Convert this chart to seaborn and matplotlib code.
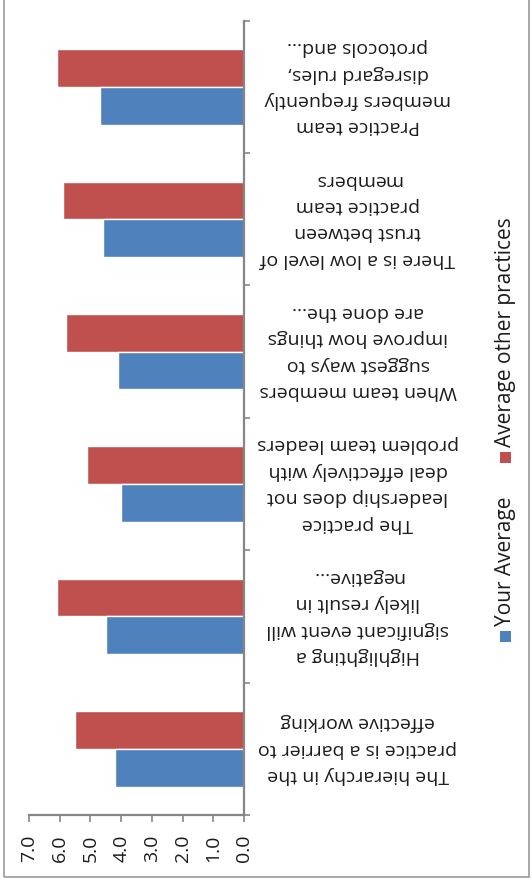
import matplotlib
matplotlib.use("Agg")
import matplotlib.pyplot as plt
from matplotlib.patches import Rectangle
import numpy as np
import pandas as pd
import seaborn as sns

# Survey statements (top to bottom) and the two series of average scores
statements = [
    "Practice team\nmembers frequently\ndisregard rules,\nprotocols and...",
    "There is a low level of\ntrust between\npractice team\nmembers",
    "When team members\nsuggest ways to\nimprove how things\nare done the...",
    "The practice\nleadership does not\ndeal effectively with\nproblem team leaders",
    "Highlighting a\nsignificant event will\nlikely result in\nnegative...",
    "The hierarchy in the\npractice is a barrier to\neffective working",
]
your_average = [4.7, 4.6, 4.1, 4.0, 4.5, 4.2]
other_average = [6.1, 5.9, 5.8, 5.1, 6.1, 5.5]
series_names = ["Average other practices", "Your Average"]
series_colors = ["#C0504D", "#4F81BD"]
value_ticks = [0, 1, 2, 3, 4, 5, 6, 7]

df = pd.DataFrame({
    "statement": statements * 2,
    "series": [series_names[1]] * len(statements) + [series_names[0]] * len(statements),
    "value": your_average + other_average,
})

sns.set_theme(style="white")
plt.rcParams["font.family"] = ["Open Sans", "DejaVu Sans"]

W, H = 532, 885
fig = plt.figure(figsize=(W / 100, H / 100), dpi=100)


def box(x0, y0, x1, y1):
    return [x0 / W, 1 - y1 / H, (x1 - x0) / W, (y1 - y0) / H]


ax = fig.add_axes(box(29, 20.7, 244, 815))
palette = dict(zip(series_names, series_colors))
sns.barplot(data=df, y="statement", x="value", hue="series",
            hue_order=series_names, palette=palette, orient="h",
            width=0.57, saturation=1, errorbar=None, legend=False, ax=ax)

axis_grey = "#868686"
text_color = "#1c1c1c"

ax.set_xlim(7, 0)
ax.set_ylim(len(statements) - 0.5, -0.5)
ax.set_xticks(value_ticks)
ax.set_xticklabels([f"{v:.1f}" for v in value_ticks], rotation=90,
                   color=text_color, fontsize=14)
ax.yaxis.tick_right()
ax.set_yticks(range(len(statements)))
ax.set_yticklabels(statements, rotation=180, ha="center", va="center",
                   multialignment="center", linespacing=1.6,
                   color=text_color, fontsize=14)
ax.set_yticks(np.arange(-0.5, len(statements), 1), minor=True)
ax.tick_params(axis="y", which="major", length=0, pad=82)
ax.tick_params(axis="y", which="minor", length=4, width=1.2, color=axis_grey,
               right=True, left=False, direction="out")
ax.tick_params(axis="x", which="major", length=5, width=1.2, color=axis_grey,
               direction="out", pad=9, bottom=True)
ax.set_xlabel("")
ax.set_ylabel("")
for side in ("left", "top"):
    ax.spines[side].set_visible(False)
for side in ("right", "bottom"):
    ax.spines[side].set_color(axis_grey)
    ax.spines[side].set_linewidth(1.6)

# Legend drawn vertically along the right edge
legend_items = [(series_names[0], series_colors[0], 452), (series_names[1], series_colors[1], 631)]
for label, color, top in legend_items:
    fig.patches.append(Rectangle((500 / W, 1 - (top + 11) / H), 11 / W, 11 / H,
                                 transform=fig.transFigure, facecolor=color,
                                 edgecolor="none"))
    fig.text(506 / W, 1 - (top - 5) / H, label, rotation=90, ha="center",
             va="bottom", fontsize=15, color=text_color)

# Chart frame
fig.patches.append(Rectangle((4 / W, 1 - 877 / H), 525 / W, 900 / H,
                             transform=fig.transFigure, fill=False,
                             edgecolor="#9a9a9a", linewidth=1.2))

fig.savefig("out.png", dpi=100)
